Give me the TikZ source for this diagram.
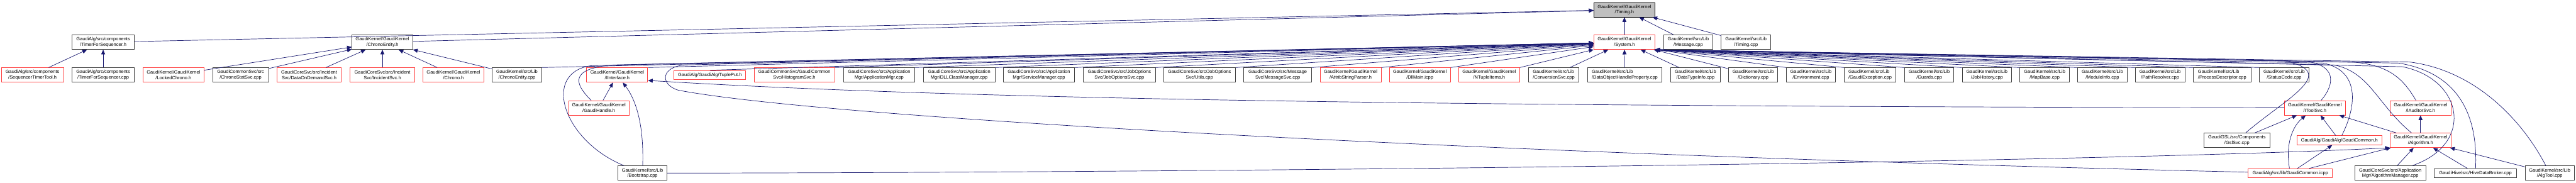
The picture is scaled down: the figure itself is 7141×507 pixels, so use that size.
\documentclass[tikz,border=0pt]{standalone}
\usepackage{fontspec}
\setmainfont{Liberation Sans}
\usepackage{xcolor}
\usepackage{tikz}
\usetikzlibrary{arrows.meta}
\definecolor{edgeblue}{RGB}{25,25,112}
\definecolor{boxred}{RGB}{255,64,64}
\definecolor{boxgrey}{RGB}{64,64,64}

\begin{document}
\begin{tikzpicture}[
  x=0.01cm, y=-0.01cm,
  every node/.style={draw=boxgrey, fill=white, line width=0.45pt, inner sep=0pt, minimum height=0.40cm, align=center, font=\fontsize{3.7}{4.2}\selectfont},
  redfile/.style={draw=boxred},
  oneline/.style={minimum height=0.25cm},
  root/.style={draw=black, fill=black!25},
  inc/.style={-{Triangle[length=0.13cm, width=0.11cm]}, draw=edgeblue, line width=0.35pt}
]
\useasboundingbox (0,0) rectangle (7141,507);

\node[root, minimum width=1.69cm] (timing) at (4503,27) {GaudiKernel/GaudiKernel\\/Timing.h};

\node[minimum width=1.72cm] (tfsh) at (286,117) {GaudiAlg/src/components\\/TimerForSequencer.h};
\node[minimum width=1.68cm] (cenh) at (1060,117) {GaudiKernel/GaudiKernel\\/ChronoEntity.h};
\node[redfile, minimum width=1.69cm] (sysh) at (4503,117) {GaudiKernel/GaudiKernel\\/System.h};
\node[minimum width=1.37cm] (msgcpp) at (4680,117) {GaudiKernel/src/Lib\\/Message.cpp};
\node[minimum width=1.37cm] (timcpp) at (4840,117) {GaudiKernel/src/Lib\\/Timing.cpp};

\node[redfile, minimum width=1.73cm] (seqtt) at (90,208) {GaudiAlg/src/components\\/SequencerTimerTool.h};
\node[minimum width=1.72cm] (tfscpp) at (286,208) {GaudiAlg/src/components\\/TimerForSequencer.cpp};
\node[redfile, minimum width=1.68cm] (lockch) at (481,208) {GaudiKernel/GaudiKernel\\/LockedChrono.h};
\node[minimum width=1.55cm] (chstat) at (667,208) {GaudiCommonSvc/src\\/ChronoStatSvc.cpp};
\node[redfile, minimum width=1.79cm] (dodsvc) at (857,208) {GaudiCoreSvc/src/Incident\\Svc/DataOnDemandSvc.h};
\node[redfile, minimum width=1.79cm] (incsvc) at (1060,208) {GaudiCoreSvc/src/Incident\\Svc/IncidentSvc.h};
\node[redfile, minimum width=1.68cm] (chronoh) at (1257,208) {GaudiKernel/GaudiKernel\\/Chrono.h};
\node[minimum width=1.36cm] (cecpp) at (1433,208) {GaudiKernel/src/Lib\\/ChronoEntity.cpp};
\node[redfile, minimum width=1.69cm] (iif) at (1711,208) {GaudiKernel/GaudiKernel\\/IInterface.h};
\node[redfile, oneline, minimum width=1.99cm] (tupput) at (1968,208) {GaudiAlg/GaudiAlg/TuplePut.h};
\node[redfile, minimum width=2.23cm] (histsvc) at (2202,208) {GaudiCommonSvc/GaudiCommon\\Svc/HistogramSvc.h};
\node[minimum width=1.97cm] (appmgr) at (2437,208) {GaudiCoreSvc/src/Application\\Mgr/ApplicationMgr.cpp};
\node[minimum width=1.98cm] (dllcm) at (2659,208) {GaudiCoreSvc/src/Application\\Mgr/DLLClassManager.cpp};
\node[minimum width=1.98cm] (svcmgr) at (2880,208) {GaudiCoreSvc/src/Application\\Mgr/ServiceManager.cpp};
\node[minimum width=1.99cm] (josvc) at (3103,208) {GaudiCoreSvc/src/JobOptions\\Svc/JobOptionsSvc.cpp};
\node[minimum width=1.99cm] (joutils) at (3325,208) {GaudiCoreSvc/src/JobOptions\\Svc/Utils.cpp};
\node[minimum width=1.88cm] (msgsvc) at (3542,208) {GaudiCoreSvc/src/Message\\Svc/MessageSvc.cpp};
\node[redfile, minimum width=1.69cm] (asp) at (3744,208) {GaudiKernel/GaudiKernel\\/AttribStringParser.h};
\node[redfile, minimum width=1.69cm] (dllmain) at (3936,208) {GaudiKernel/GaudiKernel\\/DllMain.icpp};
\node[redfile, minimum width=1.69cm] (ntitems) at (4128,208) {GaudiKernel/GaudiKernel\\/NTupleItems.h};
\node[align=left, minimum width=1.40cm] (convsvc) at (4307,208) {GaudiKernel/src/Lib\\/ConversionSvc.cpp};
\node[align=left, minimum width=2.07cm] (dohp) at (4504,208) {GaudiKernel/src/Lib\\/DataObjectHandleProperty.cpp};
\node[minimum width=1.37cm] (dtinfo) at (4700,208) {GaudiKernel/src/Lib\\/DataTypeInfo.cpp};
\node[minimum width=1.36cm] (dict) at (4860,208) {GaudiKernel/src/Lib\\/Dictionary.cpp};
\node[minimum width=1.36cm] (envir) at (5020,208) {GaudiKernel/src/Lib\\/Environment.cpp};
\node[align=left, minimum width=1.43cm] (gexc) at (5184,208) {GaudiKernel/src/Lib\\/GaudiException.cpp};
\node[minimum width=1.36cm] (guards) at (5348,208) {GaudiKernel/src/Lib\\/Guards.cpp};
\node[minimum width=1.37cm] (jobhist) at (5508,208) {GaudiKernel/src/Lib\\/JobHistory.cpp};
\node[minimum width=1.37cm] (mapbase) at (5668,208) {GaudiKernel/src/Lib\\/MapBase.cpp};
\node[minimum width=1.37cm] (modinfo) at (5828,208) {GaudiKernel/src/Lib\\/ModuleInfo.cpp};
\node[minimum width=1.37cm] (pathres) at (5988,208) {GaudiKernel/src/Lib\\/PathResolver.cpp};
\node[align=left, minimum width=1.59cm] (procdesc) at (6160,208) {GaudiKernel/src/Lib\\/ProcessDescriptor.cpp};
\node[minimum width=1.37cm] (stcode) at (6332,208) {GaudiKernel/src/Lib\\/StatusCode.cpp};

\node[redfile, minimum width=1.68cm] (ghandle) at (1660,299) {GaudiKernel/GaudiKernel\\/GaudiHandle.h};
\node[redfile, minimum width=1.68cm] (itoolsvc) at (6417,299) {GaudiKernel/GaudiKernel\\/IToolSvc.h};
\node[redfile, minimum width=1.69cm] (iaudsvc) at (6710,299) {GaudiKernel/GaudiKernel\\/IAuditorSvc.h};

\node[minimum width=1.83cm] (gslsvc) at (6201,389) {GaudiGSL/src/Components\\/GslSvc.cpp};
\node[redfile, oneline, minimum width=2.35cm] (gcommh) at (6485,389) {GaudiAlg/GaudiAlg/GaudiCommon.h};
\node[redfile, minimum width=1.69cm] (algh) at (6710,389) {GaudiKernel/GaudiKernel\\/Algorithm.h};

\node[minimum width=1.36cm] (bootcpp) at (1781,480) {GaudiKernel/src/Lib\\/Bootstrap.cpp};
\node[redfile, oneline, minimum width=2.33cm] (gcommicpp) at (6349,480) {GaudiAlg/src/lib/GaudiCommon.icpp};
\node[minimum width=1.97cm] (algmgr) at (6626,480) {GaudiCoreSvc/src/Application\\Mgr/AlgorithmManager.cpp};
\node[oneline, minimum width=2.27cm] (hivedb) at (6862,480) {GaudiHive/src/HiveDataBroker.cpp};
\node[minimum width=1.36cm] (algtool) at (7068,480) {GaudiKernel/src/Lib\\/AlgTool.cpp};

\draw[inc] (tfsh) -- (timing);
\draw[inc] (cenh) -- (timing);
\draw[inc] (sysh) -- (timing);
\draw[inc] (msgcpp) -- (timing);
\draw[inc] (timcpp) -- (timing);

\draw[inc] (seqtt) -- (tfsh);
\draw[inc] (tfscpp) -- (tfsh);

\draw[inc] (lockch) -- (cenh);
\draw[inc] (chstat) -- (cenh);
\draw[inc] (dodsvc) -- (cenh);
\draw[inc] (incsvc) -- (cenh);
\draw[inc] (chronoh) -- (cenh);
\draw[inc] (cecpp) -- (cenh);

\draw[inc] (cecpp.north east) -- (sysh);
\draw[inc] (iif.north east) -- (sysh);
\draw[inc] (tupput.north) -- (sysh);
\draw[inc] (histsvc.north east) -- (sysh);
\draw[inc] (appmgr.north east) -- (sysh);
\draw[inc] (dllcm.north east) -- (sysh);
\draw[inc] (svcmgr.north east) -- (sysh);
\draw[inc] (josvc.north east) -- (sysh);
\draw[inc] (joutils.north east) -- (sysh);
\draw[inc] (msgsvc.north east) -- (sysh);
\draw[inc] (asp.north east) -- (sysh);
\draw[inc] (dllmain.north east) -- (sysh);
\draw[inc] (ntitems.north east) -- (sysh);
\draw[inc] (convsvc) -- (sysh);
\draw[inc] (dohp) -- (sysh);
\draw[inc] (dtinfo) -- (sysh);
\draw[inc] (dict) -- (sysh);
\draw[inc] (envir.north west) -- (sysh.south east);
\draw[inc] (gexc.north west) -- (sysh.south east);
\draw[inc] (guards.north west) -- (sysh.south east);
\draw[inc] (jobhist.north west) -- (sysh.south east);
\draw[inc] (mapbase.north west) -- (sysh.south east);
\draw[inc] (modinfo.north west) -- (sysh.south east);
\draw[inc] (pathres.north west) -- (sysh.south east);
\draw[inc] (procdesc.north west) -- (sysh.south east);
\draw[inc] (stcode.north west) -- (sysh.south east);

\draw[inc] (ghandle) .. controls (1590,230) and (1580,190) .. (1700,180) -- (sysh);
\draw[inc] (bootcpp) .. controls (1560,390) and (1500,200) .. (1640,182) -- (sysh);
\draw[inc] (gcommicpp) .. controls (4200,430) and (2300,330) .. (1880,250) .. controls (1830,235) and (1830,185) .. (1900,180) -- (sysh);
\draw[inc] (gslsvc) .. controls (6340,270) and (6490,200) .. (6330,168) -- (sysh.south east);
\draw[inc] (itoolsvc) .. controls (6475,230) and (6475,180) .. (6390,170) -- (sysh.south east);
\draw[inc] (gcommh) .. controls (6535,290) and (6540,195) .. (6440,175) -- (sysh.south east);
\draw[inc] (algh) .. controls (6590,290) and (6570,200) .. (6470,180) -- (sysh.south east);
\draw[inc] (iaudsvc) .. controls (6665,225) and (6630,180) .. (6520,172) -- (sysh.south east);
\draw[inc] (algmgr) .. controls (6860,400) and (6830,220) .. (6660,185) -- (sysh.south east);
\draw[inc] (hivedb) .. controls (6870,300) and (6800,200) .. (6650,175) -- (sysh.south east);
\draw[inc] (algtool) .. controls (6990,330) and (6860,195) .. (6680,172) -- (sysh.south east);

\draw[inc] (ghandle) -- (iif);
\draw[inc] (bootcpp) .. controls (1785,350) and (1765,280) .. (iif);
\draw[inc] (itoolsvc.west) .. controls (4500,295) and (2800,285) .. (iif.-10);

\draw[inc] (gslsvc) -- (itoolsvc);
\draw[inc] (gcommh) -- (itoolsvc);
\draw[inc] (algh) -- (itoolsvc);
\draw[inc] (gcommicpp) .. controls (6335,400) and (6355,350) .. (itoolsvc);
\draw[inc] (algh) -- (iaudsvc);
\draw[inc] (gcommicpp) -- (gcommh);

\draw[inc] (gcommicpp) -- (algh);
\draw[inc] (bootcpp.east) .. controls (3500,478) and (5800,450) .. (algh.south west);
\draw[inc] (algmgr) -- (algh);
\draw[inc] (hivedb) -- (algh);
\draw[inc] (algtool) -- (algh);
\end{tikzpicture}
\end{document}
